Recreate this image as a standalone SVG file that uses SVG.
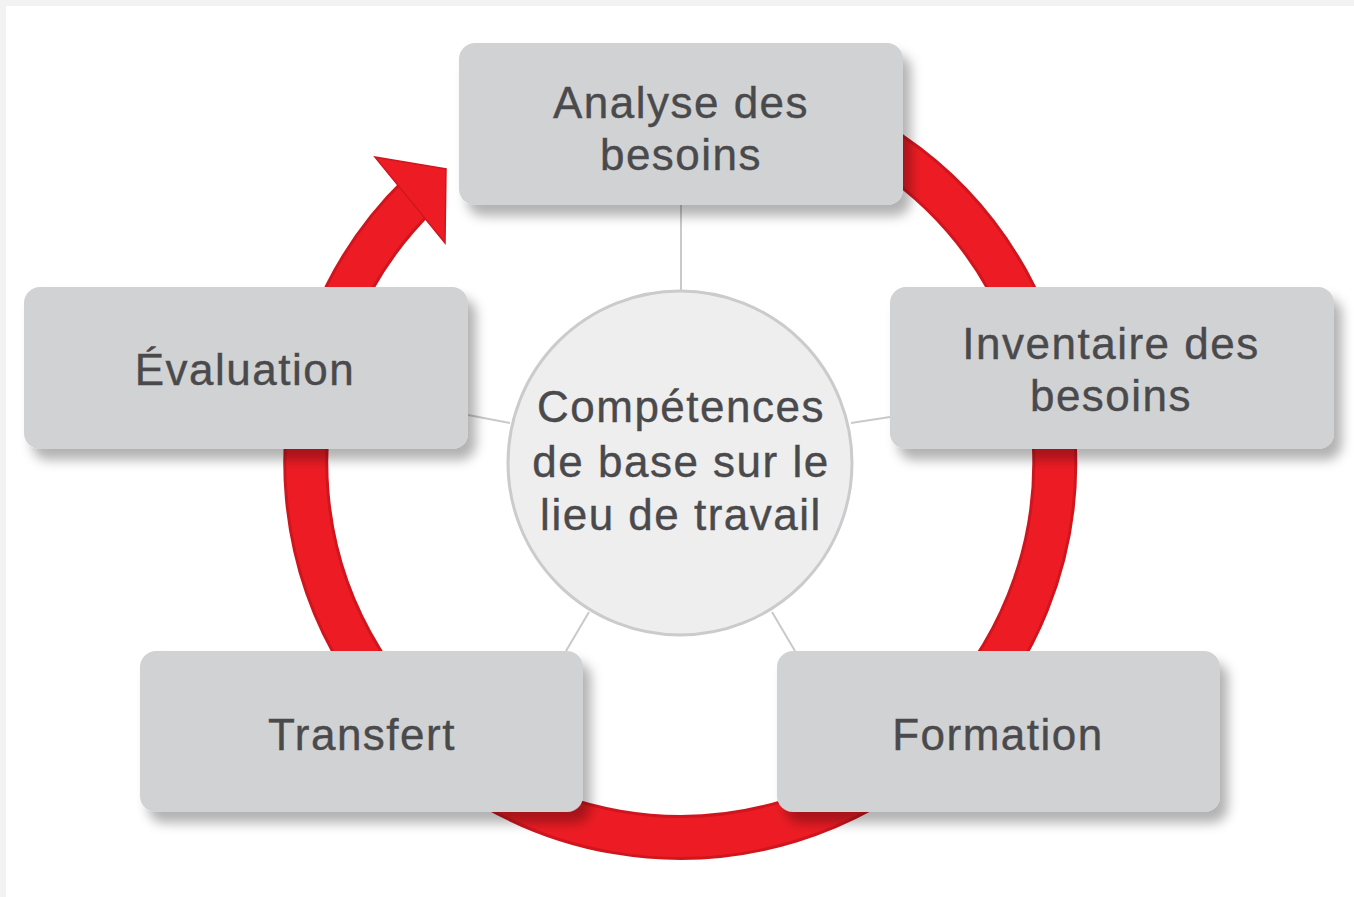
<svg xmlns="http://www.w3.org/2000/svg" width="1354" height="897" viewBox="0 0 1354 897">
<defs>
<filter id="sh" x="-10%" y="-20%" width="130%" height="160%">
<feDropShadow dx="8" dy="11" stdDeviation="6" flood-color="#000" flood-opacity="0.3"/>
</filter>
<style>
.box{fill:#d1d2d4;filter:url(#sh);}
.t{font-family:"Liberation Sans",Arial,sans-serif;font-size:44px;fill:#4a4a4c;text-anchor:middle;letter-spacing:1.5px;stroke:#4a4a4c;stroke-width:0.4px;}
.con{stroke:#c9c9cb;stroke-width:2;fill:none;}
</style>
</defs>
<rect x="0" y="0" width="1354" height="897" fill="#f2f2f2"/>
<rect x="6" y="6" width="1348" height="891" fill="#ffffff"/>
<g id="cycle">
<path d="M 745 94 A 374.5 374.5 0 1 1 420 193.6" fill="none" stroke="#cf161e" stroke-width="45"/>
<path d="M 745 94 A 374.5 374.5 0 1 1 420 193.6" fill="none" stroke="#ed1c24" stroke-width="39"/>
<polygon points="375,157 446,169 445,243" fill="#ed1c24" stroke="#cf161e" stroke-width="1.5" stroke-linejoin="miter"/>
</g>
<g id="connectors">
<line class="con" x1="681" y1="205" x2="681" y2="292"/>
<line class="con" x1="468" y1="415" x2="510" y2="423"/>
<line class="con" x1="851" y1="423" x2="890" y2="417"/>
<line class="con" x1="589" y1="612" x2="566" y2="651"/>
<line class="con" x1="772" y1="612" x2="795" y2="651"/>
</g>
<g id="analyse">
<rect class="box" x="459" y="43" width="444" height="162" rx="16"/>
<text class="t" x="681" y="118">Analyse des</text>
<text class="t" x="681" y="170">besoins</text>
</g>
<g id="inventaire">
<rect class="box" x="890" y="287" width="444" height="162" rx="16"/>
<text class="t" x="1111" y="359">Inventaire des</text>
<text class="t" x="1111" y="411">besoins</text>
</g>
<g id="formation">
<rect class="box" x="777" y="651" width="443" height="161" rx="16"/>
<text class="t" x="998" y="750">Formation</text>
</g>
<g id="transfert">
<rect class="box" x="140" y="651" width="443" height="161" rx="16"/>
<text class="t" x="362" y="750">Transfert</text>
</g>
<g id="evaluation">
<rect class="box" x="24" y="287" width="444" height="162" rx="16"/>
<text class="t" x="245" y="385">Évaluation</text>
</g>
<g id="centre">
<circle cx="680" cy="463" r="172" fill="#eeeeef" stroke="#cbcbcd" stroke-width="3"/>
<text class="t" x="681" y="422">Compétences</text>
<text class="t" x="681" y="477">de base sur le</text>
<text class="t" x="681" y="530">lieu de travail</text>
</g>
</svg>
